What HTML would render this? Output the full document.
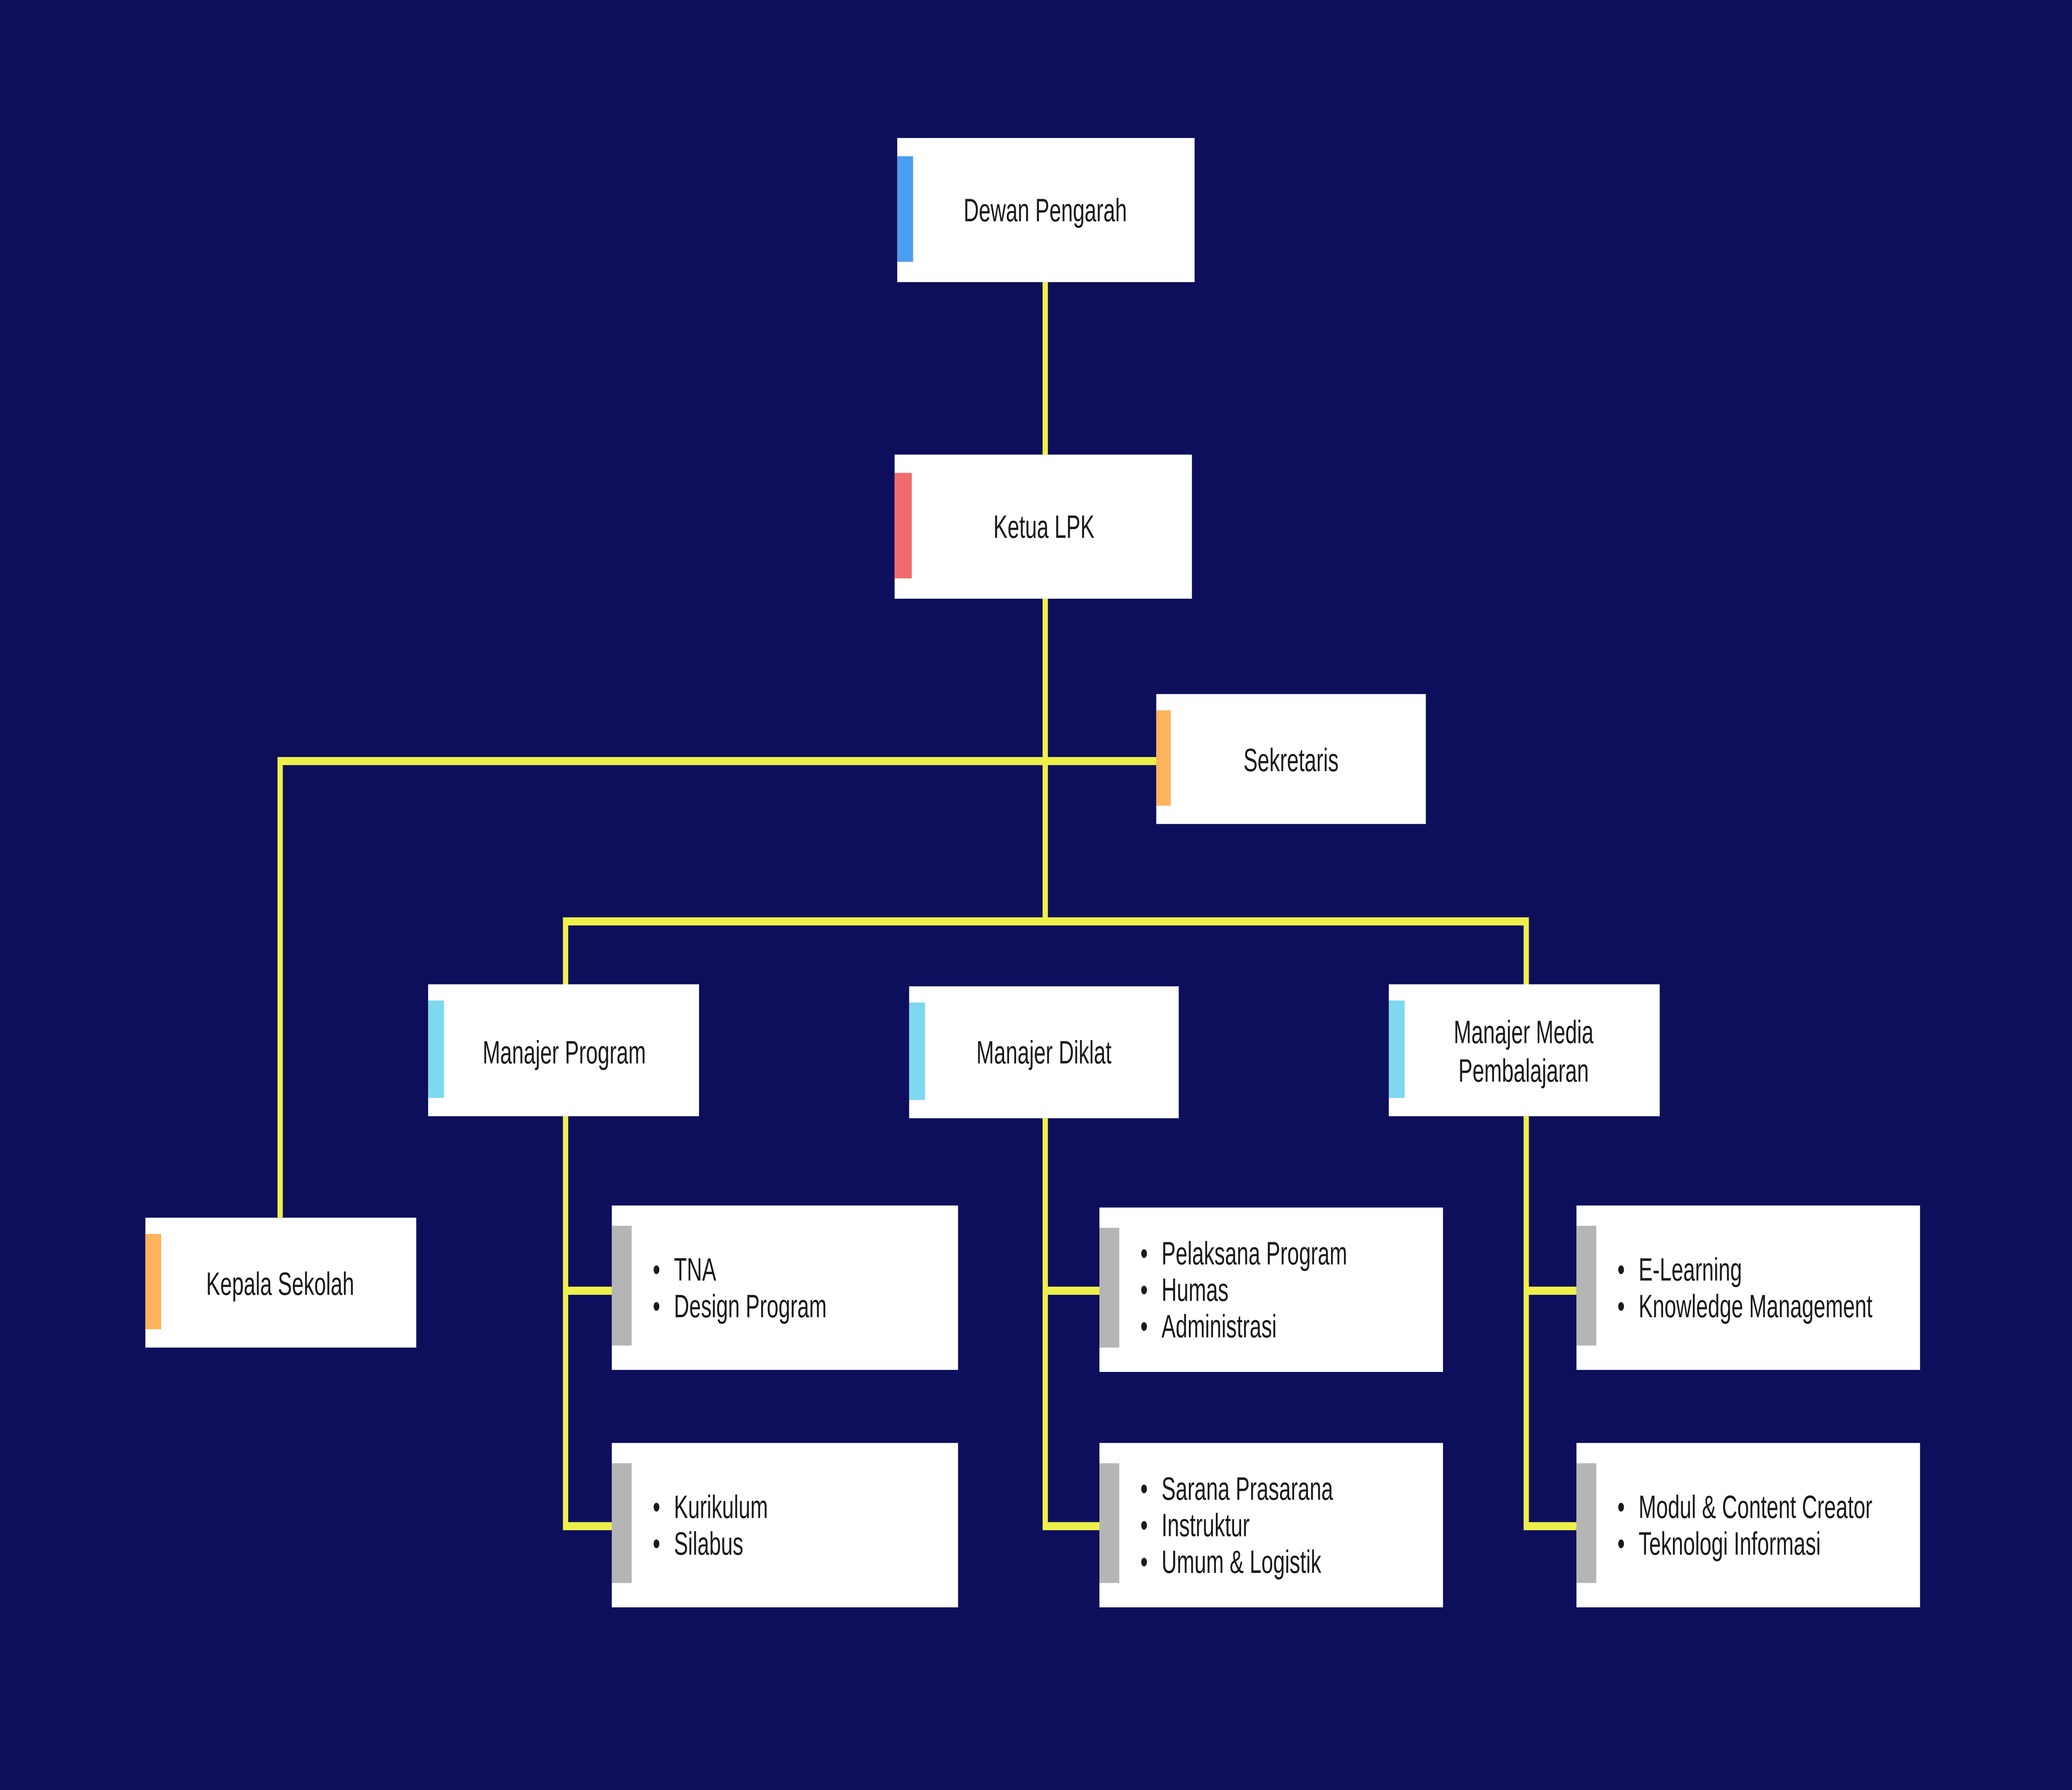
<!DOCTYPE html>
<html><head><meta charset="utf-8"><style>
html,body{margin:0;padding:0;background:#0e0f5c;width:100%;height:100%;overflow:hidden}
svg{display:block;width:100vw;height:100vh}
text{font-family:"Liberation Sans",sans-serif;font-size:16px;fill:#1a1a1a}
</style></head><body>
<svg viewBox="0 0 1568 882" preserveAspectRatio="none" xmlns="http://www.w3.org/2000/svg">
<rect width="1568" height="882" fill="#0e0f5c"/>
<g stroke="#eef04a" stroke-width="4" fill="none">
<path d="M791 139V224M791 295V455M212 375H875M212 373V600M428 454H1155M428 452V485M1155 452V485"/>
<path d="M428 550V752H463M428 636H463"/>
<path d="M791 551V752H832M791 636H832"/>
<path d="M1155 550V752H1193M1155 636H1193"/>
</g>
<g fill="#fff">
<rect x="679" y="68" width="225" height="71"/>
<rect x="677" y="224" width="225" height="71"/>
<rect x="875" y="342" width="204" height="64"/>
<rect x="110" y="600" width="205" height="64"/>
<rect x="324" y="485" width="205" height="65"/>
<rect x="688" y="486" width="204" height="65"/>
<rect x="1051" y="485" width="205" height="65"/>
<rect x="463" y="594" width="262" height="81"/>
<rect x="463" y="711" width="262" height="81"/>
<rect x="832" y="595" width="260" height="81"/>
<rect x="832" y="711" width="260" height="81"/>
<rect x="1193" y="594" width="260" height="81"/>
<rect x="1193" y="711" width="260" height="81"/>
</g>
<rect x="679" y="77" width="12" height="52" fill="#4a9ff0"/>
<rect x="677" y="233" width="13" height="52" fill="#f06c6c"/>
<rect x="875" y="350" width="11" height="47" fill="#ffb35c"/>
<rect x="110" y="608" width="12" height="47" fill="#ffb35c"/>
<rect x="324" y="493" width="12" height="48" fill="#7dd8f0"/>
<rect x="688" y="494" width="12" height="48" fill="#7dd8f0"/>
<rect x="1051" y="493" width="12" height="48" fill="#7dd8f0"/>
<g fill="#b5b5b5">
<rect x="463" y="604" width="15" height="59"/>
<rect x="463" y="721" width="15" height="59"/>
<rect x="832" y="605" width="15" height="59"/>
<rect x="832" y="721" width="15" height="59"/>
<rect x="1193" y="604" width="15" height="59"/>
<rect x="1193" y="721" width="15" height="59"/>
</g>
<g text-anchor="middle">
<text x="791" y="109">Dewan Pengarah</text>
<text x="790" y="265">Ketua LPK</text>
<text x="977" y="380">Sekretaris</text>
<text x="212" y="638">Kepala Sekolah</text>
<text x="427" y="524">Manajer Program</text>
<text x="790" y="524">Manajer Diklat</text>
<text x="1153" y="514">Manajer Media</text>
<text x="1153" y="533">Pembalajaran</text>
</g>
<g>
<text x="494" y="631">•</text><text x="510" y="631">TNA</text>
<text x="494" y="649">•</text><text x="510" y="649">Design Program</text>
<text x="494" y="748">•</text><text x="510" y="748">Kurikulum</text>
<text x="494" y="766">•</text><text x="510" y="766">Silabus</text>
<text x="863" y="623">•</text><text x="879" y="623">Pelaksana Program</text>
<text x="863" y="641">•</text><text x="879" y="641">Humas</text>
<text x="863" y="659">•</text><text x="879" y="659">Administrasi</text>
<text x="863" y="739">•</text><text x="879" y="739">Sarana Prasarana</text>
<text x="863" y="757">•</text><text x="879" y="757">Instruktur</text>
<text x="863" y="775">•</text><text x="879" y="775">Umum &amp; Logistik</text>
<text x="1224" y="631">•</text><text x="1240" y="631">E-Learning</text>
<text x="1224" y="649">•</text><text x="1240" y="649">Knowledge Management</text>
<text x="1224" y="748">•</text><text x="1240" y="748">Modul &amp; Content Creator</text>
<text x="1224" y="766">•</text><text x="1240" y="766">Teknologi Informasi</text>
</g>
</svg>
</body></html>
